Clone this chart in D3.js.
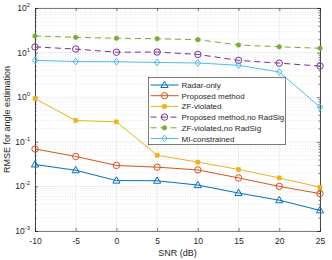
<!DOCTYPE html>
<html>
<head>
<meta charset="utf-8">
<script src="https://cdn.jsdelivr.net/npm/d3@7"></script>
<style>
  body { margin: 0; background: #fff; }
  text { font-family: "Liberation Sans", Arial, sans-serif; }
</style>
</head>
<body>
<svg id="chart" width="332" height="260"></svg>
<script>
const snr = [-10, -5, 0, 5, 10, 15, 20, 25];
const radarOnly = [0.031, 0.023, 0.0135, 0.0134, 0.0107, 0.0071, 0.0049, 0.0029];
const proposed = [0.069, 0.047, 0.0295, 0.027, 0.0234, 0.0155, 0.0100, 0.0069];
const zfViolated = [0.93, 0.30, 0.28, 0.050, 0.035, 0.024, 0.0155, 0.0096];
const proposedNoRad = [13.4, 12.0, 10.2, 10.3, 9.1, 6.7, 5.8, 5.0];
const zfNoRad = [23.6, 22.0, 21.0, 20.5, 19.5, 14.8, 13.5, 12.5];
const miConstrained = [6.7, 6.3, 6.25, 6.0, 5.85, 5.2, 3.67, 0.60];
const xTicks = [-10, -5, 0, 5, 10, 15, 20, 25];
const yTicks = [1e-3, 1e-2, 1e-1, 1e0, 1e1, 1e2];

const series = [
  {name: 'Radar-only', values: radarOnly, color: '#0072BD', marker: 'triangle', dash: null},
  {name: 'Proposed method', values: proposed, color: '#D95319', marker: 'circle', dash: null},
  {name: 'ZF-violated', values: zfViolated, color: '#EDB120', marker: 'square', dash: null},
  {name: 'Proposed method,no RadSig', values: proposedNoRad, color: '#7E2F8E', marker: 'circle', dash: '6,4'},
  {name: 'ZF-violated,no RadSig', values: zfNoRad, color: '#77AC30', marker: 'dot', dash: '6,4'},
  {name: 'MI-constrained', values: miConstrained, color: '#4DBEEE', marker: 'diamond', dash: null}
];

const svg = d3.select('#chart');
const m = {left: 35, right: 12, top: 8, bottom: 29};
const W = 332, H = 260;

const x = d3.scaleLinear().domain([-10, 25]).range([m.left, W - m.right]);
const y = d3.scaleLog().domain([1e-3, 1e2]).range([H - m.bottom, m.top]);

// grid
const minor = [];
for (let e = -3; e < 2; e++) {
  for (let k = 2; k < 10; k++) minor.push(k * Math.pow(10, e));
}
const grid = svg.append('g');
grid.selectAll('.ymin').data(minor).enter().append('line')
  .attr('x1', m.left).attr('x2', W - m.right)
  .attr('y1', d => y(d)).attr('y2', d => y(d))
  .attr('stroke', '#dcdcdc').attr('stroke-width', 0.6).attr('stroke-dasharray', '1,1.5');
grid.selectAll('.ymaj').data(yTicks).enter().append('line')
  .attr('x1', m.left).attr('x2', W - m.right)
  .attr('y1', d => y(d)).attr('y2', d => y(d))
  .attr('stroke', '#e6e6e6').attr('stroke-width', 0.7);
grid.selectAll('.xmaj').data(xTicks).enter().append('line')
  .attr('y1', m.top).attr('y2', H - m.bottom)
  .attr('x1', d => x(d)).attr('x2', d => x(d))
  .attr('stroke', '#e6e6e6').attr('stroke-width', 0.7);

// axes
const axisColor = '#262626';
const gx = svg.append('g').attr('transform', `translate(0,${H - m.bottom})`)
  .call(d3.axisBottom(x).tickValues(xTicks).tickSize(-3).tickPadding(7).tickFormat(d => String(d)));
const gxt = svg.append('g').attr('transform', `translate(0,${m.top})`)
  .call(d3.axisTop(x).tickValues(xTicks).tickSize(-3).tickFormat(''));
const gy = svg.append('g').attr('transform', `translate(${m.left},0)`)
  .call(d3.axisLeft(y).tickValues(yTicks).tickSize(-3).tickPadding(5).tickFormat(''));
const gyr = svg.append('g').attr('transform', `translate(${W - m.right},0)`)
  .call(d3.axisRight(y).tickValues(yTicks).tickSize(-3).tickFormat(''));
const gym = svg.append('g').attr('transform', `translate(${m.left},0)`)
  .call(d3.axisLeft(y).tickValues(minor).tickSize(-1.5).tickFormat(''));
const gymr = svg.append('g').attr('transform', `translate(${W - m.right},0)`)
  .call(d3.axisRight(y).tickValues(minor).tickSize(-1.5).tickFormat(''));
[gx, gxt, gy, gyr, gym, gymr].forEach(g => {
  g.selectAll('path').attr('stroke', axisColor).attr('stroke-width', 0.6);
  g.selectAll('line').attr('stroke', axisColor).attr('stroke-width', 0.6);
});
gx.selectAll('text').attr('font-size', 8.5).attr('fill', axisColor);

// y tick labels as 10^n
const ylab = svg.append('g');
yTicks.forEach(v => {
  const e = Math.round(Math.log10(v));
  const t = ylab.append('text')
    .attr('x', m.left - 5).attr('y', y(v) + 3)
    .attr('text-anchor', 'end').attr('font-size', 8.5).attr('fill', axisColor);
  t.append('tspan').text('10');
  t.append('tspan').attr('dy', -4).attr('font-size', 6).text(e);
});

svg.append('text').attr('x', (m.left + W - m.right) / 2).attr('y', 256)
  .attr('text-anchor', 'middle').attr('font-size', 9).attr('fill', axisColor).text('SNR (dB)');
svg.append('text')
  .attr('transform', `translate(10,${(m.top + H - m.bottom) / 2}) rotate(-90)`)
  .attr('text-anchor', 'middle').attr('font-size', 9).attr('fill', axisColor)
  .text('RMSE for angle estimation');

function drawMarker(g, type, color, cx, cy) {
  if (type === 'triangle') {
    g.append('path').attr('d', `M${cx},${cy - 3.8}L${cx + 3.6},${cy + 2.5}L${cx - 3.6},${cy + 2.5}Z`)
      .attr('fill', 'none').attr('stroke', color).attr('stroke-width', 1);
  } else if (type === 'circle') {
    g.append('circle').attr('cx', cx).attr('cy', cy).attr('r', 3.2)
      .attr('fill', 'none').attr('stroke', color).attr('stroke-width', 1);
  } else if (type === 'square') {
    g.append('rect').attr('x', cx - 2).attr('y', cy - 2).attr('width', 4).attr('height', 4)
      .attr('fill', color).attr('stroke', color).attr('stroke-width', 0.5);
  } else if (type === 'dot') {
    g.append('circle').attr('cx', cx).attr('cy', cy).attr('r', 2.3)
      .attr('fill', color).attr('stroke', color).attr('stroke-width', 0.5);
  } else if (type === 'diamond') {
    g.append('path').attr('d', `M${cx},${cy - 3.4}L${cx + 2.7},${cy}L${cx},${cy + 3.4}L${cx - 2.7},${cy}Z`)
      .attr('fill', 'none').attr('stroke', color).attr('stroke-width', 1);
  }
}

const line = d3.line().x((d, i) => x(snr[i])).y(d => y(d));
const plot = svg.append('g');
series.forEach(s => {
  plot.append('path').datum(s.values).attr('d', line)
    .attr('fill', 'none').attr('stroke', s.color).attr('stroke-width', 1)
    .attr('stroke-dasharray', s.dash);
  s.values.forEach((v, i) => drawMarker(plot, s.marker, s.color, x(snr[i]), y(v)));
});

// legend
const lg = svg.append('g');
const lx = 148.5, ly = 77.5, lw = 137, rowH = 10.7;
lg.append('rect').attr('x', lx).attr('y', ly).attr('width', lw).attr('height', rowH * series.length + 3)
  .attr('fill', '#fff').attr('stroke', axisColor).attr('stroke-width', 0.6);
series.forEach((s, i) => {
  const yy = ly + 7.5 + i * rowH;
  lg.append('line').attr('x1', lx + 2).attr('x2', lx + 30).attr('y1', yy).attr('y2', yy)
    .attr('stroke', s.color).attr('stroke-width', 1).attr('stroke-dasharray', s.dash);
  drawMarker(lg, s.marker, s.color, lx + 16, yy);
  lg.append('text').attr('x', lx + 33).attr('y', yy + 3).attr('font-size', 8)
    .attr('fill', axisColor).text(s.name);
});
</script>
</body>
</html>
